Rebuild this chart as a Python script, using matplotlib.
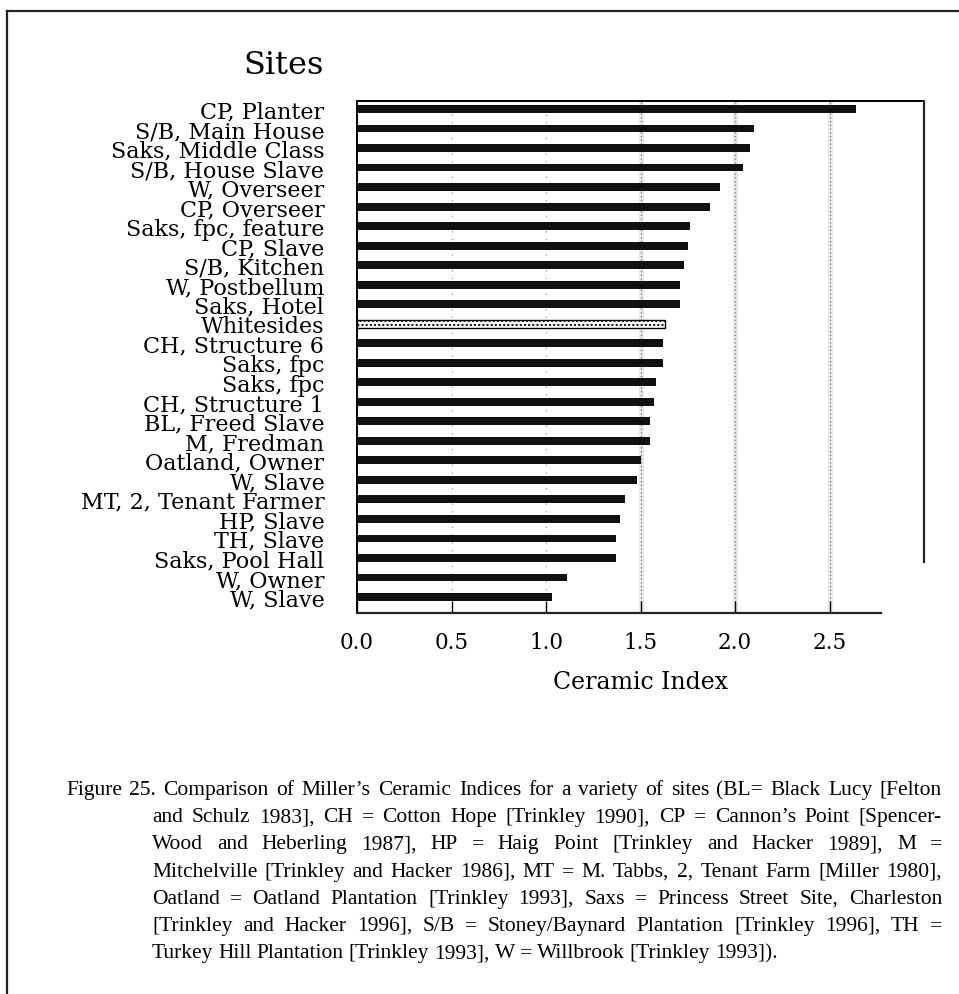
import matplotlib
matplotlib.use('Agg')
from matplotlib import pyplot as plt
from matplotlib.lines import Line2D

sites = [
    'CP, Planter', 'S/B, Main House', 'Saks, Middle Class', 'S/B, House Slave',
    'W, Overseer', 'CP, Overseer', 'Saks, fpc, feature', 'CP, Slave',
    'S/B, Kitchen', 'W, Postbellum', 'Saks, Hotel', 'Whitesides',
    'CH, Structure 6', 'Saks, fpc', 'Saks, fpc', 'CH, Structure 1',
    'BL, Freed Slave', 'M, Fredman', 'Oatland, Owner', 'W, Slave',
    'MT, 2, Tenant Farmer', 'HP, Slave', 'TH, Slave', 'Saks, Pool Hall',
    'W, Owner', 'W, Slave',
]
ceramic_index = [
    2.64, 2.10, 2.08, 2.04,
    1.92, 1.87, 1.76, 1.75,
    1.73, 1.71, 1.71, 1.63,
    1.62, 1.62, 1.58, 1.57,
    1.55, 1.55, 1.50, 1.48,
    1.42, 1.39, 1.37, 1.37,
    1.11, 1.03,
]
highlight = 'Whitesides'
x_ticks = [0.0, 0.5, 1.0, 1.5, 2.0, 2.5]

caption_lines = [
    "Figure 25. Comparison of Miller\u2019s Ceramic Indices for a variety of sites (BL= Black Lucy [Felton",
    "and Schulz 1983], CH = Cotton Hope [Trinkley 1990], CP = Cannon\u2019s Point [Spencer-",
    "Wood and Heberling 1987], HP = Haig Point [Trinkley and Hacker 1989], M =",
    "Mitchelville [Trinkley and Hacker 1986], MT = M. Tabbs, 2, Tenant Farm [Miller 1980],",
    "Oatland = Oatland Plantation [Trinkley 1993], Saxs = Princess Street Site, Charleston",
    "[Trinkley and Hacker 1996], S/B = Stoney/Baynard Plantation [Trinkley 1996], TH =",
    "Turkey Hill Plantation [Trinkley 1993], W = Willbrook [Trinkley 1993]).",
]

plt.rcParams['font.family'] = 'DejaVu Serif'

W, H = 959, 995
fig = plt.figure(figsize=(W / 100, H / 100), dpi=100)
ax = fig.add_axes([357 / W, 1 - 614 / H, 567 / W, 512 / H])

pos = list(range(len(sites)))

# faint dotted grid lines behind the bars (grey band on the right-hand ones)
for x in x_ticks[1:]:
    if x >= 1.5:
        ax.axvline(x, color='#e8e8e8', lw=3.5, zorder=0)
        ax.axvline(x, color='#777777', lw=0.9, ls=(0, (1, 2)), zorder=0.5)
    else:
        ax.axvline(x, color='#888888', lw=0.8, ls=(0, (1, 6)), zorder=0.5)

bars = ax.barh(pos, ceramic_index, height=0.4, color='#111111', zorder=2)
for bar, name in zip(bars, sites):
    if name == highlight:
        bar.set_facecolor('white')
        bar.set_edgecolor('black')
        bar.set_linewidth(1.0)
        bar.set_hatch('....')

ax.set_xlim(0, 3.0)
ax.set_ylim(25.82, -0.41)

ax.set_yticks(pos)
ax.set_yticklabels(sites, fontsize=16)
ax.tick_params(axis='y', length=0, pad=23.5)

ax.set_xticks(x_ticks)
ax.set_xticklabels([f'{t:.1f}' for t in x_ticks], fontsize=15.5)
ax.tick_params(axis='x', direction='in', length=8.5, width=1.0, pad=13)

ax.set_xlabel('Ceramic Index', fontsize=17, labelpad=12)

for side in ['right', 'bottom']:
    ax.spines[side].set_visible(False)
ax.spines['top'].set_linewidth(1.4)
ax.spines['left'].set_linewidth(1.4)

# shortened bottom axis line and right border line, as in the scan
ax.plot([0, 2.77], [25.82, 25.82], color='#222222', lw=1.6, clip_on=False, zorder=3)
ax.plot([3.0, 3.0], [-0.41, 23.2], color='#222222', lw=1.6, clip_on=False, zorder=3)

fig.text(324 / W, 1 - 66 / H, 'Sites', ha='right', va='center', fontsize=23)

# page frame
fig.add_artist(Line2D([7 / W, 1.0], [1 - 12 / H, 1 - 12 / H], color='#222222', lw=1.6))
fig.add_artist(Line2D([7 / W, 7 / W], [1 - 12 / H, 0.0], color='#222222', lw=1.6))

# justified caption
fig.canvas.draw()
renderer = fig.canvas.get_renderer()
right_px = 942
for i, line in enumerate(caption_lines):
    left_px = 66 if i == 0 else 152
    y = 1 - (795 + 27.2 * i) / H
    words = line.split(' ')
    texts = [fig.text(0, y, w, ha='left', va='baseline', fontsize=15.5,
                      family='Liberation Serif') for w in words]
    widths = [t.get_window_extent(renderer).width for t in texts]
    if i < len(caption_lines) - 1:
        gap = (right_px - left_px - sum(widths)) / (len(words) - 1)
    else:
        gap = 5
    x = left_px
    for t, wdt in zip(texts, widths):
        t.set_x(x / W)
        x += wdt + gap

plt.savefig('out.png', dpi=100)
plt.close()
